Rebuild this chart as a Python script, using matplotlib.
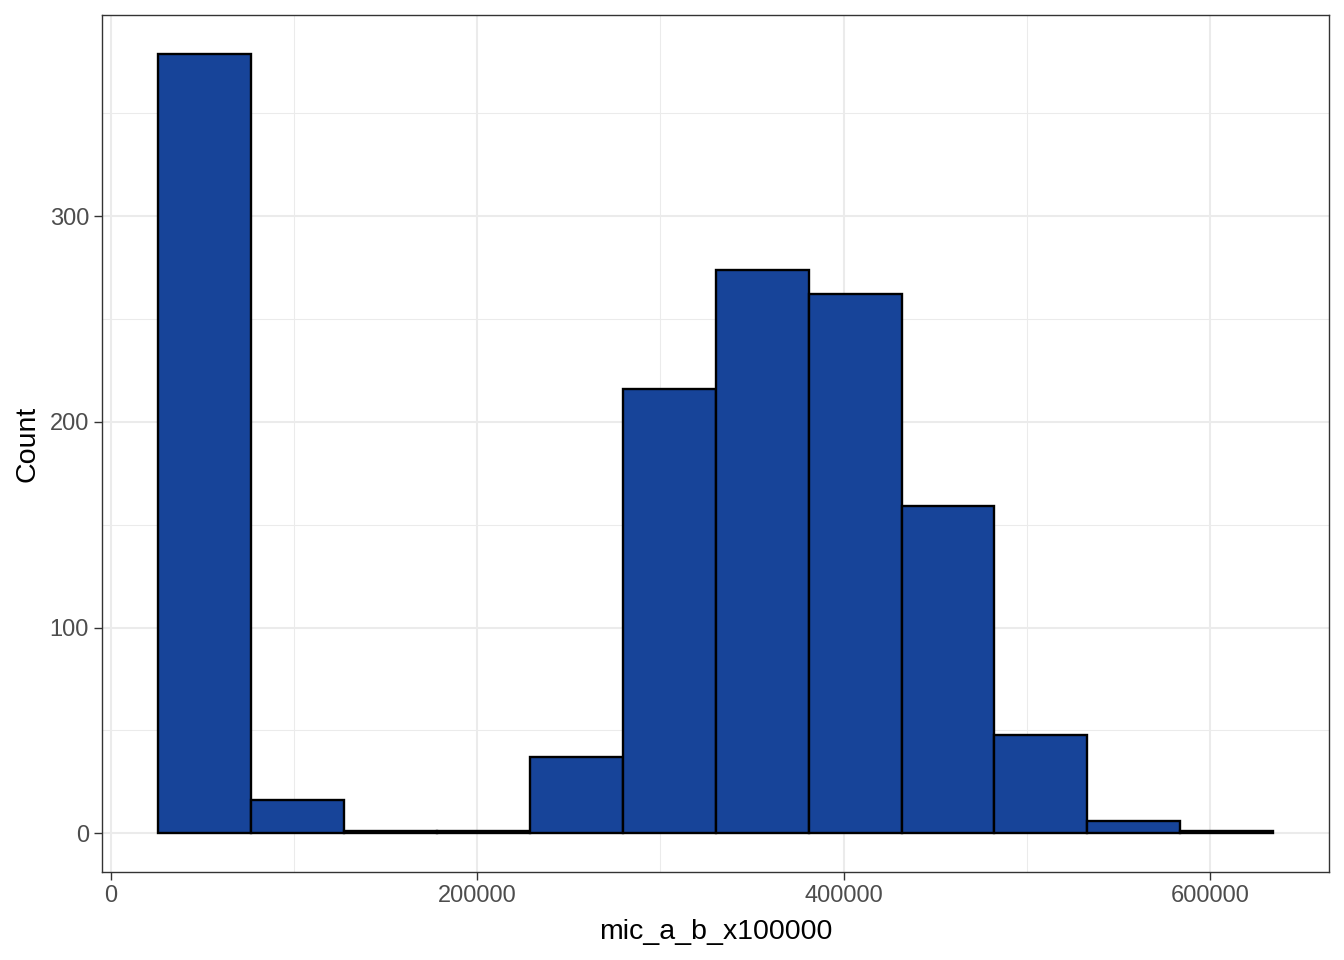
import numpy as np
import matplotlib
matplotlib.use("Agg")
import matplotlib.pyplot as plt
from matplotlib.ticker import FixedLocator

plt.rcParams['font.family'] = ['Liberation Sans', 'DejaVu Sans']

# Data
bin_edges = [25848, 76569, 127290, 178011, 228732, 279453, 330174,
             380895, 431616, 482337, 533058, 583779, 634500]
counts = [379, 16, 1, 1, 37, 216, 274, 262, 159, 48, 6, 1]
x_ticks = [0, 200000, 400000, 600000]
x_minor = [100000, 300000, 500000]
y_ticks = [0, 100, 200, 300]
y_minor = [50, 150, 250, 350]
x_label = "mic_a_b_x100000"
y_label = "Count"

W, H = 1344, 960
fig = plt.figure(figsize=(W / 100, H / 100), dpi=100)
left, right, top, bottom = 102.3, 1329, 14.7, 872.3
ax = fig.add_axes([left / W, 1 - bottom / H, (right - left) / W, (bottom - top) / H])

edges = np.array(bin_edges, dtype=float)
ax.bar(edges[:-1], counts, width=np.diff(edges), align='edge',
       color='#174499', edgecolor='black', linewidth=1.7, zorder=3)

# ggplot-like expansion
xr = edges[-1] - edges[0]
ax.set_xlim(edges[0] - 0.05 * xr, edges[-1] + 0.05 * xr)
ymax = max(counts)
ax.set_ylim(-0.05 * ymax, ymax * 1.05)

ax.xaxis.set_major_locator(FixedLocator(x_ticks))
ax.xaxis.set_minor_locator(FixedLocator(x_minor))
ax.yaxis.set_major_locator(FixedLocator(y_ticks))
ax.yaxis.set_minor_locator(FixedLocator(y_minor))
ax.set_xticklabels([str(v) for v in x_ticks])
ax.set_yticklabels([str(v) for v in y_ticks])

ax.grid(which='major', color='#EBEBEB', linewidth=1.5, zorder=0)
ax.grid(which='minor', color='#EBEBEB', linewidth=0.75, zorder=0)
ax.set_axisbelow(True)

for s in ax.spines.values():
    s.set_color('#333333')
    s.set_linewidth(1.0)

ax.tick_params(which='major', length=5.5, width=1.0, color='#333333',
               labelsize=17, labelcolor='#4D4D4D', pad=4)
ax.tick_params(which='minor', length=0)

ax.set_xlabel(x_label, fontsize=20.5, color='black', labelpad=8)
ax.set_ylabel(y_label, fontsize=20.5, color='black', labelpad=6.5)

fig.savefig("out.png", dpi=100, facecolor='white')
